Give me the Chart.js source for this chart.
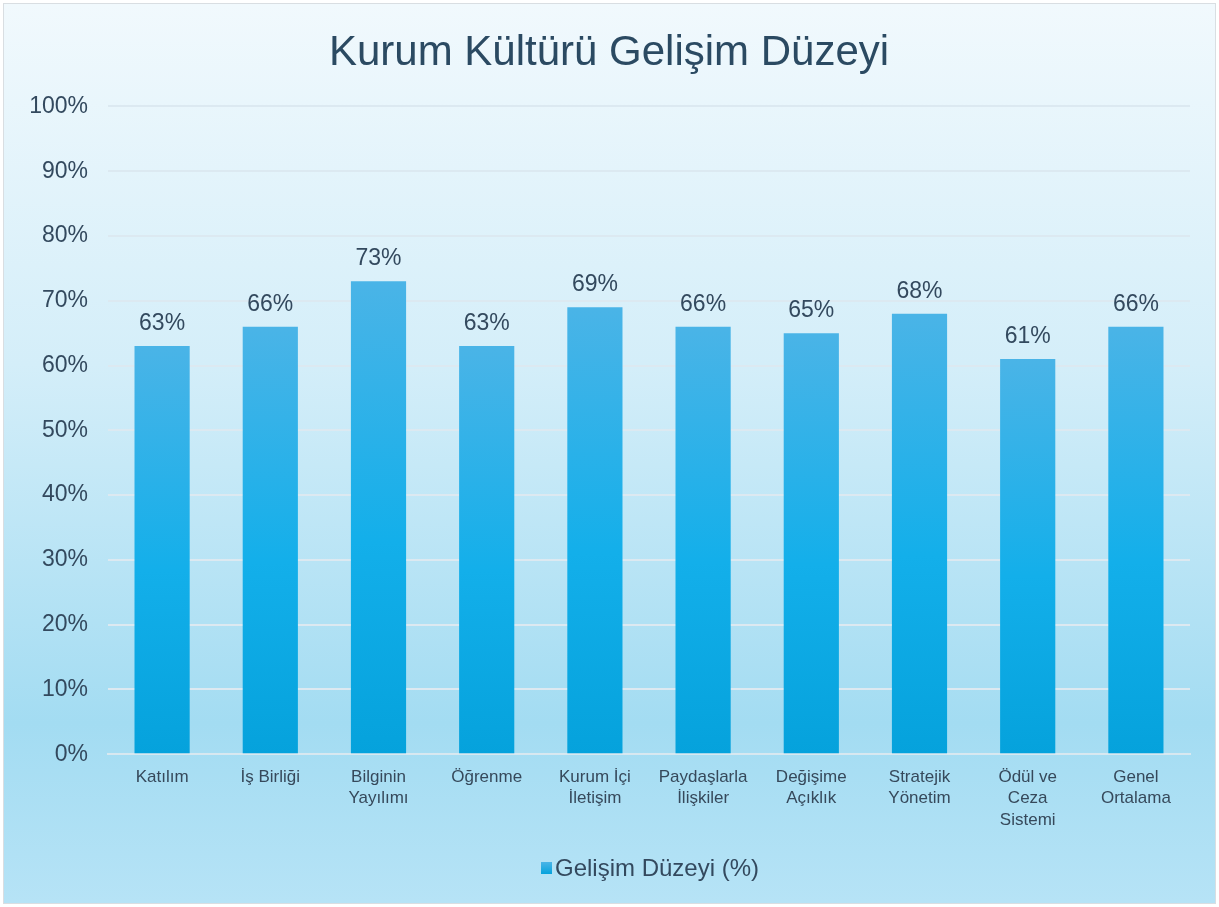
<!DOCTYPE html>
<html>
<head>
<meta charset="utf-8">
<title>Kurum Kültürü Gelişim Düzeyi</title>
<script src="https://cdn.jsdelivr.net/npm/chart.js@4"></script>
<style>
  html, body { margin: 0; padding: 0; background: #fff; }
  #wrap {
    position: absolute; left: 3px; top: 3px;
    width: 1211px; height: 899px;
    border: 1px solid #d9dee2;
    background: linear-gradient(to bottom, #f1f9fd 0%, #d4eef9 40%, #a3dcf2 80%, #b6e3f6 100%);
  }
</style>
</head>
<body>
<div id="wrap"><canvas id="chart" width="1211" height="899"></canvas></div>
<script>
const categories = [
  "Katılım", "İş Birliği", ["Bilginin", "Yayılımı"], "Öğrenme",
  ["Kurum İçi", "İletişim"], ["Paydaşlarla", "İlişkiler"], ["Değişime", "Açıklık"],
  ["Stratejik", "Yönetim"], ["Ödül ve", "Ceza", "Sistemi"], ["Genel", "Ortalama"]
];
const values = [63, 66, 73, 63, 69, 66, 65, 68, 61, 66];
const seriesName = "Gelişim Düzeyi (%)";
const titleText = "Kurum Kültürü Gelişim Düzeyi";

const textColor = "#33495e";
const fontFamily = "'Liberation Sans', Arial, sans-serif";

// draws the percent value above each bar
const valueLabels = {
  id: "valueLabels",
  afterDatasetsDraw(chart) {
    const ctx = chart.ctx;
    const meta = chart.getDatasetMeta(0);
    ctx.save();
    ctx.font = "23px " + fontFamily;
    ctx.fillStyle = textColor;
    ctx.textAlign = "center";
    ctx.textBaseline = "alphabetic";
    meta.data.forEach((bar, i) => {
      ctx.fillText(values[i] + "%", bar.x, bar.y - 16);
    });
    ctx.restore();
  }
};

// legend in the bottom band, slightly right of centre like the original
const bottomLegend = {
  id: "bottomLegend",
  afterDraw(chart) {
    const ctx = chart.ctx;
    const x = 537, y = 864;
    ctx.save();
    const g = ctx.createLinearGradient(0, y - 6, 0, y + 6);
    g.addColorStop(0, "#4ab4e7");
    g.addColorStop(1, "#05a2dc");
    ctx.fillStyle = g;
    ctx.fillRect(x, y - 6, 11, 12);
    ctx.font = "24px " + fontFamily;
    ctx.fillStyle = textColor;
    ctx.textAlign = "left";
    ctx.textBaseline = "middle";
    ctx.fillText(seriesName, x + 14, y + 1);
    ctx.restore();
  }
};

function barFill(context) {
  const chart = context.chart;
  if (!chart.chartArea || !chart.scales.y) return "#1aaee6";
  const y = chart.scales.y;
  const top = y.getPixelForValue(context.raw || 0);
  const bottom = y.getPixelForValue(0);
  if (!isFinite(top) || top >= bottom) return "#1aaee6";
  const g = chart.ctx.createLinearGradient(0, top, 0, bottom);
  g.addColorStop(0, "#4ab4e7");
  g.addColorStop(0.55, "#13afea");
  g.addColorStop(1, "#05a2dc");
  return g;
}

new Chart(document.getElementById("chart"), {
  type: "bar",
  data: {
    labels: categories,
    datasets: [{
      label: seriesName,
      data: values,
      backgroundColor: barFill,
      borderWidth: 0,
      categoryPercentage: 1,
      barPercentage: 0.51
    }]
  },
  options: {
    responsive: false,
    animation: false,
    layout: { padding: { left: 24, right: 25, top: 4, bottom: 60 } },
    plugins: {
      title: {
        display: true,
        text: titleText,
        color: "#2b4a62",
        font: { family: fontFamily, size: 42, weight: "normal" },
        padding: { top: 20, bottom: 28 }
      },
      legend: { display: false },
      tooltip: { enabled: false }
    },
    scales: {
      x: {
        grid: { display: false, drawTicks: false },
        border: { color: "#d8e8f0", width: 2 },
        ticks: {
          color: "#36495b",
          font: { family: fontFamily, size: 17, lineHeight: 1.27 },
          padding: 12,
          maxRotation: 0,
          autoSkip: false
        }
      },
      y: {
        min: 0,
        max: 100,
        grid: { color: "#dce9f1", lineWidth: 2, drawTicks: false },
        border: { display: false },
        afterFit(scale) { scale.width = 80; },
        ticks: {
          stepSize: 10,
          color: textColor,
          font: { family: fontFamily, size: 23 },
          padding: 20,
          callback: v => v + "%"
        }
      }
    }
  },
  plugins: [valueLabels, bottomLegend]
});
</script>
</body>
</html>
